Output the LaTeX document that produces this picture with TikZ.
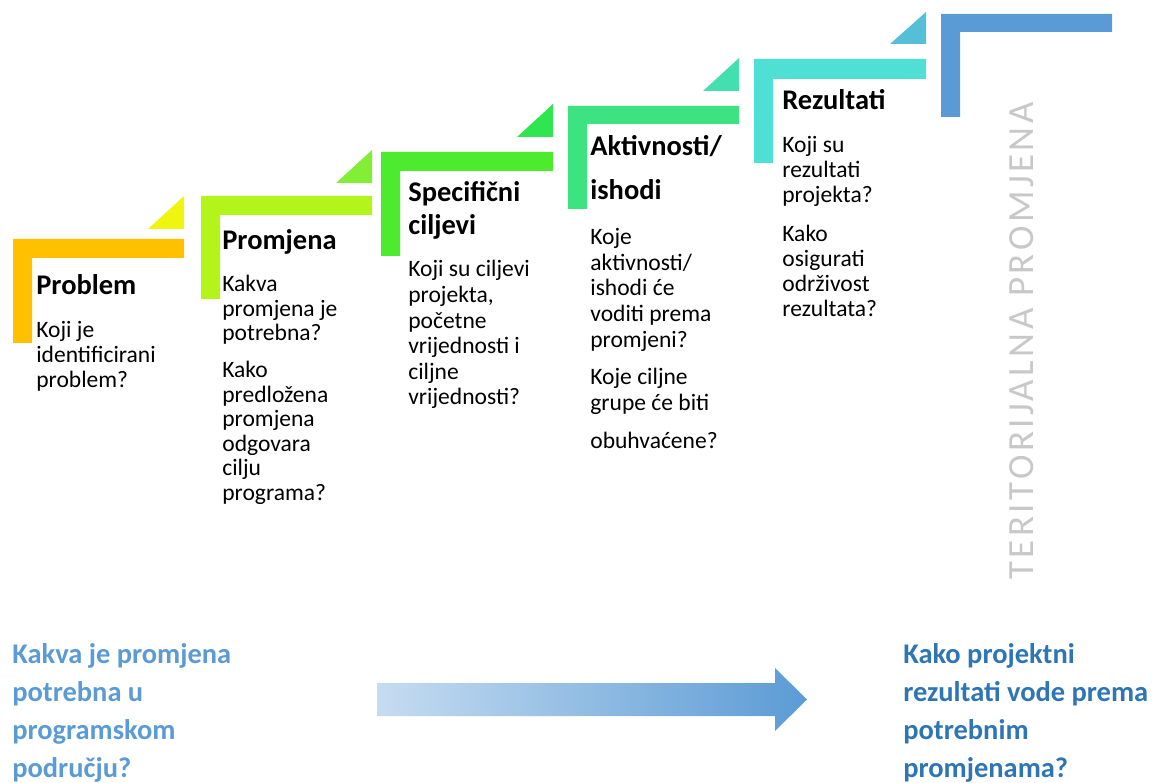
\documentclass[tikz,border=0pt]{standalone}
\usepackage{fontspec}
\setmainfont{Carlito}

\definecolor{stepA}{HTML}{FFC000}
\definecolor{stepB}{HTML}{B3F41A}
\definecolor{stepC}{HTML}{4CEB2E}
\definecolor{stepD}{HTML}{3DE380}
\definecolor{stepE}{HTML}{4FDFD4}
\definecolor{stepF}{HTML}{5B9BD5}
\definecolor{triA}{HTML}{F0F510}
\definecolor{triB}{HTML}{82EE35}
\definecolor{triC}{HTML}{30E650}
\definecolor{triD}{HTML}{43DFAE}
\definecolor{triE}{HTML}{55BFD8}
\definecolor{askLight}{HTML}{5B9BD5}
\definecolor{askDark}{HTML}{2E75B6}
\definecolor{sideGray}{HTML}{C8C8C8}

\begin{document}
\begin{tikzpicture}[x=0.02cm, y=-0.02cm,
  head/.style={anchor=base west, align=left, inner sep=0pt, font=\bfseries\fontsize{16.2}{18.8}\selectfont},
  body/.style={anchor=base west, align=left, inner sep=0pt, font=\fontsize{13.4}{14.3}\selectfont},
  ask/.style={anchor=base west, align=left, inner sep=0pt, font=\bfseries\fontsize{16.2}{21.6}\selectfont}]
  \useasboundingbox (0,0) rectangle (1162,783);

  % stairs
  \fill[stepA] (13,343) |- (184,239) |- (32,258) -- (32,343) -- cycle;
  \fill[stepB] (201,299) |- (372,196) |- (220,215) -- (220,299) -- cycle;
  \fill[stepC] (381,256) |- (553,152) |- (400,171) -- (400,256) -- cycle;
  \fill[stepD] (568,209) |- (739,106) |- (587,124) -- (587,209) -- cycle;
  \fill[stepE] (754,163) |- (926,59) |- (773,79) -- (773,163) -- cycle;
  \fill[stepF] (941,117) |- (1112,14) |- (960,32) -- (960,117) -- cycle;

  % corners
  \fill[triA] (148,229) -- (184,229) -- (184,196) -- cycle;
  \fill[triB] (336,183) -- (372,183) -- (372,150) -- cycle;
  \fill[triC] (517,137) -- (553,137) -- (553,104) -- cycle;
  \fill[triD] (703,91) -- (739,91) -- (739,58) -- cycle;
  \fill[triE] (890,44) -- (926,44) -- (926,12) -- cycle;

  % nodes (placed at the baseline of their last line)
  \node[head] (probHead) at (36,295) {Problem};
  \node[body] (probText) at (36,388) {Koji je\\identificirani\\problem?};

  \node[head] (promHead) at (222,250) {Promjena};
  \node[body, font=\fontsize{13.4}{13.9}\selectfont] (promText) at (222,500) {Kakva\\promjena je\\potrebna?\\[7.4pt]Kako\\predložena\\promjena\\odgovara\\cilju\\programa?};

  \node[head] (ciljHead) at (408,235) {Specifični\\ciljevi};
  \node[body, font=\fontsize{13.4}{14.6}\selectfont] (ciljText) at (408,405) {Koji su ciljevi\\projekta,\\početne\\vrijednosti i\\ciljne\\vrijednosti?};

  \node[head, font=\bfseries\fontsize{16.2}{25.6}\selectfont] (aktHead) at (590,200) {Aktivnosti/\\ishodi};
  \node[body, font=\fontsize{13.4}{14.6}\selectfont] (aktText) at (590,448) {Koje\\aktivnosti/\\ishodi će\\voditi prema\\promjeni?\\[6.8pt]Koje ciljne\\grupe će biti\\[6.8pt]obuhvaćene?};

  \node[head] (rezHead) at (782,110) {Rezultati};
  \node[body] (rezText) at (782,317) {Koji su\\rezultati\\projekta?\\[8pt]Kako\\osigurati\\održivost\\rezultata?};

  \node[anchor=base west, inner sep=0pt, rotate=90, text=sideGray,
        font=\addfontfeature{LetterSpace=9.5}\fontsize{21}{23}\selectfont] (sideText) at (1033,580) {TERITORIJALNA PROMJENA};

  \node[ask, text=askLight] (needText) at (12,777) {Kakva je promjena\\potrebna u\\programskom\\području?};
  \node[ask, text=askDark] (leadText) at (903,777) {Kako projektni\\rezultati vode prema\\potrebnim\\promjenama?};

  % arrow
  \shade[left color=askLight!35, right color=askLight]
    (377,683) -- (775,683) -- (775,668) -- (807,699.5) -- (775,731) -- (775,716) -- (377,716) -- cycle;
\end{tikzpicture}
\end{document}
